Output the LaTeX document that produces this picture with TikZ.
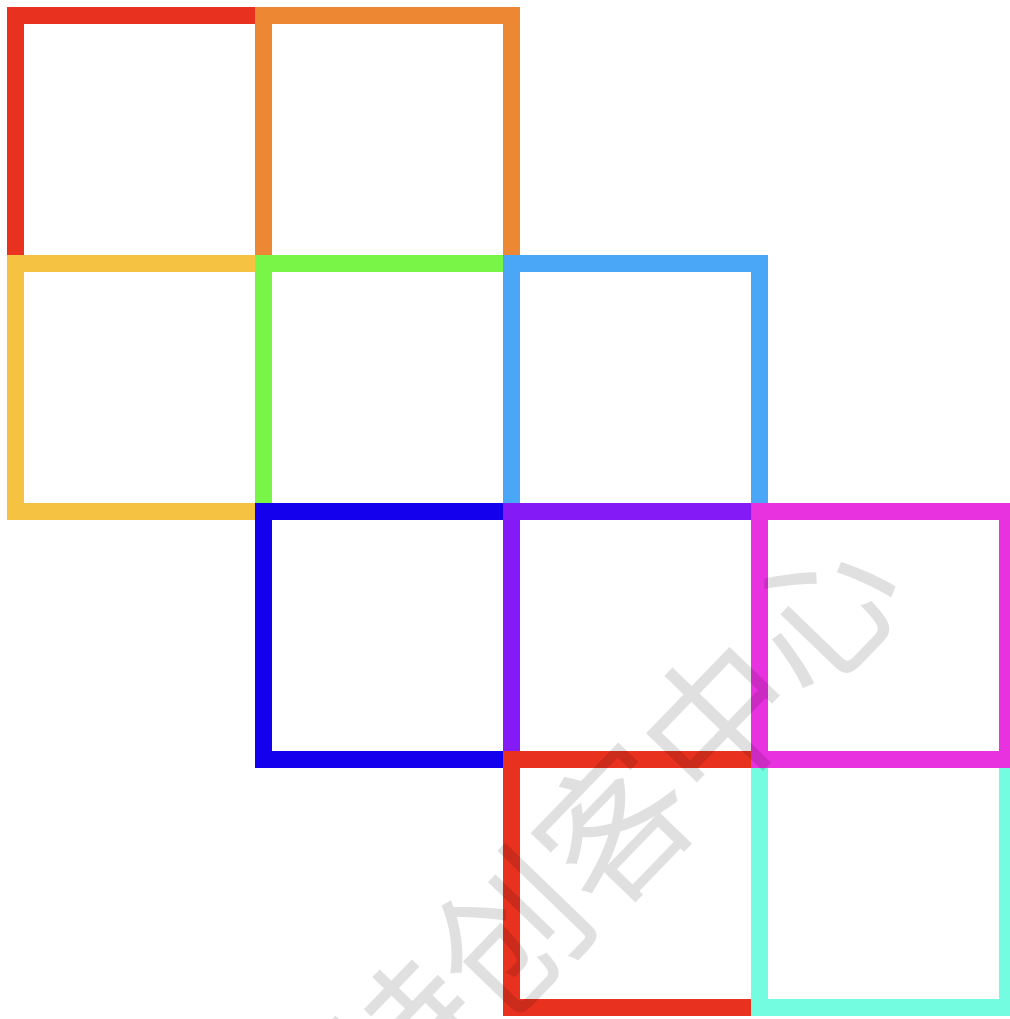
\documentclass[tikz,border=0pt]{standalone}
\usepackage{fontspec}
\usetikzlibrary{positioning}
\newfontfamily\cjkfont{Noto Sans CJK SC}

\definecolor{cRed}{RGB}{232,50,31}
\definecolor{cOrange}{RGB}{238,135,51}
\definecolor{cYellow}{RGB}{245,194,66}
\definecolor{cGreen}{RGB}{120,245,70}
\definecolor{cSky}{RGB}{74,166,247}
\definecolor{cBlue}{RGB}{21,0,238}
\definecolor{cPurple}{RGB}{132,26,245}
\definecolor{cMagenta}{RGB}{232,50,223}
\definecolor{cCyan}{RGB}{116,252,224}

\begin{document}
\begin{tikzpicture}[x=0.025cm,y=-0.025cm,
    cell/.style={draw, rectangle, line width=0.425cm, minimum size=6.2cm,
                 inner sep=0pt, outer sep=0pt},
    node distance=0pt]
\useasboundingbox (0,0) rectangle (1010,1019);
\clip (0,0) rectangle (1010,1019);
% first row, then each new cell is put next to one that is already there
% (the later cells lie over the earlier ones where the frames meet)
\node[cell, draw=cRed] (redA) at (139.5,139.5) {};
\node[cell, draw=cOrange, right=of redA] (orange) {};
% second row
\node[cell, draw=cYellow, below=of redA] (yellow) {};
\node[cell, draw=cGreen, right=of yellow] (green) {};
\node[cell, draw=cSky, right=of green] (sky) {};
% third row
\node[cell, draw=cBlue, below=of green] (blue) {};
\node[cell, draw=cPurple, right=of blue] (purple) {};
% fourth row
\node[cell, draw=cRed, below=of purple] (redB) {};
\node[cell, draw=cCyan, right=of redB] (cyan) {};
% magenta goes on top of the cyan frame
\node[cell, draw=cMagenta, right=of purple] (magenta) {};
% the watermark
\node[text=black, opacity=0.12, rotate=46, inner sep=0pt] (mark) at (614,826)
    {\cjkfont\fontsize{106}{106}\selectfont 特创客中心};
\end{tikzpicture}
\end{document}
